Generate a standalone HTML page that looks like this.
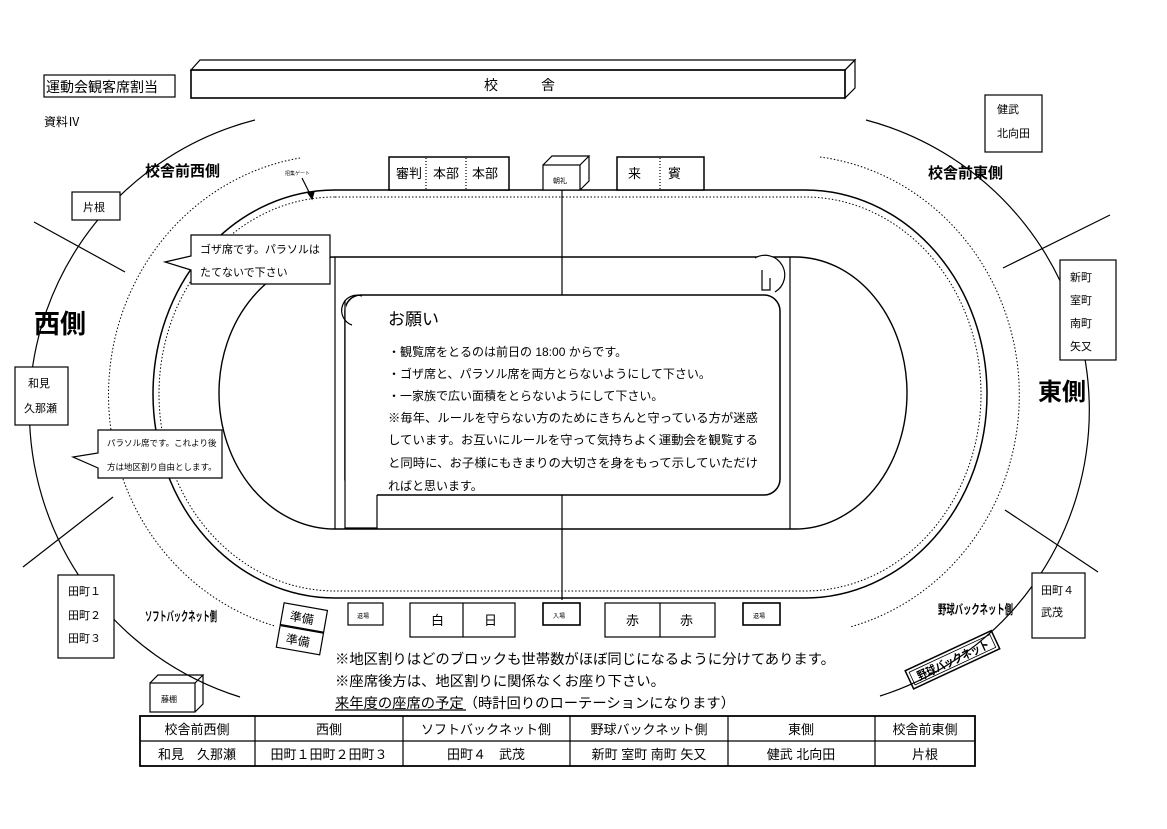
<!DOCTYPE html>
<html><head><meta charset="utf-8"><style>
html,body{margin:0;padding:0;background:#fff}
svg{display:block}
text{font-family:"Liberation Sans","Noto Sans CJK JP",sans-serif;fill:#000}
.b{font-weight:bold}
</style></head><body>
<svg width="1167" height="829" viewBox="0 0 1167 829" xmlns="http://www.w3.org/2000/svg">
<g fill="none" stroke="#000" stroke-width="1.2">
<rect x="44" y="75" width="131" height="22"/>
<path d="M191 70 L200 60 L855 60 L845 70 Z"/>
<path d="M845 70 L855 60 L855 88 L845 98 Z"/>
<rect x="191" y="70" width="654" height="28" stroke-width="1.6"/>
<path d="M255 120 A300 300 0 0 0 240 697"/>
<path d="M866 120 A300 300 0 0 1 880 696"/>
<path d="M300 158 A228 240 0 0 0 275 626" stroke-dasharray="1.5 2" stroke-width="1"/>
<path d="M820 157 A228 240 0 0 1 850 627" stroke-dasharray="1.5 2" stroke-width="1"/>
<path d="M335 190 L805 190 A182 204 0 0 1 805 598 L335 598 A182 204 0 0 1 335 190 Z" stroke-width="1.5"/>
<path d="M335 197 L805 197 A176 197 0 0 1 805 591 L335 591 A176 197 0 0 1 335 197 Z" stroke-dasharray="1.5 2" stroke-width="1"/>
<path d="M335 257 L795 257 A112 136 0 0 1 795 529 L335 529 A116 136 0 0 1 335 257 Z" stroke-width="1.4"/>
<line x1="335" y1="257" x2="335" y2="529"/>
<line x1="790" y1="257" x2="790" y2="529"/>
<line x1="562" y1="190" x2="562" y2="600"/>
<line x1="34" y1="222" x2="125" y2="272"/>
<line x1="23" y1="567" x2="113" y2="497"/>
<line x1="1110" y1="215" x2="1003" y2="268"/>
<line x1="1005" y1="510" x2="1098" y2="572"/>
<rect x="72" y="192" width="48" height="28" fill="#fff"/>
<rect x="15" y="367" width="53" height="58" fill="#fff"/>
<rect x="58" y="575" width="56" height="83" fill="#fff"/>
<rect x="985" y="95" width="57" height="57" fill="#fff"/>
<rect x="1060" y="260" width="56" height="100" fill="#fff"/>
<rect x="1032" y="573" width="53" height="65" fill="#fff"/>
<path d="M191 235 L330 235 L330 284 L191 284 L191 270 L165 262 L191 256 Z" fill="#fff"/>
<path d="M98 430 L222 430 L222 478 L98 478 L98 468 L73 457 L98 453 Z" fill="#fff"/>
<rect x="389" y="157" width="120" height="33" fill="#fff" stroke-width="1.5"/>
<line x1="426" y1="158" x2="426" y2="189" stroke-dasharray="1 2"/>
<line x1="466" y1="158" x2="466" y2="189" stroke-dasharray="1 2"/>
<rect x="543" y="165" width="37" height="25" fill="#fff"/>
<path d="M543 165 L552 156 L589 156 L580 165 M580 190 L589 181 L589 156"/>
<rect x="617" y="157" width="87" height="33" fill="#fff" stroke-width="1.5"/>
<line x1="660" y1="158" x2="660" y2="189" stroke-dasharray="1 2"/>
<line x1="302" y1="178" x2="311" y2="196"/>
<path d="M308 193 L312 199 L314 192 Z" fill="#000"/>
<path d="M755 258 A17 17 0 1 1 775 292" fill="#fff"/>
<rect x="345" y="295" width="435" height="200" rx="16" fill="#fff" stroke-width="1.5"/>
<path d="M345 300 L345 528 L377 528 L377 495" fill="#fff"/>
<path d="M362 296 A12 12 0 0 0 352 325" />
<path d="M762 270 L762 290 L770 290 L770 278"/>
<rect x="348" y="603" width="35" height="22" fill="#fff"/>
<rect x="410" y="603" width="105" height="34" fill="#fff"/>
<line x1="463" y1="603" x2="463" y2="637"/>
<rect x="543" y="603" width="37" height="22" fill="#fff" stroke-width="1.6"/>
<rect x="605" y="603" width="110" height="34" fill="#fff"/>
<line x1="660" y1="603" x2="660" y2="637"/>
<rect x="743" y="603" width="37" height="22" fill="#fff" stroke-width="1.6"/>
<g transform="rotate(10 300 628)">
<rect x="280" y="606" width="44" height="22" fill="#fff"/>
<rect x="280" y="629" width="44" height="22" fill="#fff"/>
</g>
<rect x="150" y="683" width="45" height="29" fill="#fff"/>
<path d="M150 683 L158 675 L203 675 L195 683 M195 712 L203 704 L203 675"/>
<g transform="rotate(-25 952 660)">
<rect x="905" y="650" width="95" height="20" stroke-width="1.5"/>
<rect x="908" y="653" width="89" height="14" stroke-width="0.8"/>
</g>
<rect x="140" y="716" width="835" height="50" stroke-width="1.8"/>
<line x1="140" y1="741" x2="975" y2="741"/>
<line x1="255" y1="716" x2="255" y2="766"/>
<line x1="403" y1="716" x2="403" y2="766"/>
<line x1="570" y1="716" x2="570" y2="766"/>
<line x1="728" y1="716" x2="728" y2="766"/>
<line x1="875" y1="716" x2="875" y2="766"/>
<line x1="335" y1="710" x2="466" y2="710"/>
</g>
<text x="46" y="92" font-size="14">運動会観客席割当</text>
<text x="484" y="90" font-size="14">校</text>
<text x="541" y="90" font-size="14">舎</text>
<text x="44" y="126" font-size="12">資料Ⅳ</text>
<text x="145" y="176" font-size="15" class="b">校舎前西側</text>
<text x="928" y="178" font-size="15" class="b">校舎前東側</text>
<text x="83" y="211" font-size="11">片根</text>
<text x="997" y="113" font-size="11">健武</text>
<text x="997" y="137" font-size="11">北向田</text>
<text x="1070" y="281" font-size="11">新町</text>
<text x="1070" y="304" font-size="11">室町</text>
<text x="1070" y="327" font-size="11">南町</text>
<text x="1070" y="350" font-size="11">矢又</text>
<text x="28" y="387" font-size="11">和見</text>
<text x="24" y="412" font-size="11">久那瀬</text>
<text x="68" y="595" font-size="11">田町１</text>
<text x="68" y="619" font-size="11">田町２</text>
<text x="68" y="642" font-size="11">田町３</text>
<text x="1041" y="594" font-size="11">田町４</text>
<text x="1041" y="616" font-size="11">武茂</text>
<text x="34" y="333" font-size="26" class="b">西側</text>
<text x="1038" y="400" font-size="24" class="b">東側</text>
<text x="200" y="253" font-size="11">ゴザ席です。パラソルは</text>
<text x="200" y="276" font-size="11">たてないで下さい</text>
<text x="107" y="446" font-size="8.5">パラソル席です。これより後</text>
<text x="107" y="470" font-size="8.5">方は地区割り自由とします。</text>
<text x="396" y="178" font-size="13">審判</text>
<text x="433" y="178" font-size="13">本部</text>
<text x="472" y="178" font-size="13">本部</text>
<text x="553" y="183" font-size="7">朝礼</text>
<text x="628" y="178" font-size="13">来</text>
<text x="668" y="178" font-size="13">賓</text>
<text x="285" y="175" font-size="5">招集ゲート</text>
<text x="388" y="325" font-size="17">お願い</text>
<g font-size="12">
<text x="388" y="356">・観覧席をとるのは前日の 18:00 からです。</text>
<text x="388" y="378">・ゴザ席と、パラソル席を両方とらないようにして下さい。</text>
<text x="388" y="400">・一家族で広い面積をとらないようにして下さい。</text>
<text x="388" y="422" textLength="370" lengthAdjust="spacingAndGlyphs">※毎年、ルールを守らない方のためにきちんと守っている方が迷惑</text>
<text x="388" y="444" textLength="370" lengthAdjust="spacingAndGlyphs">しています。お互いにルールを守って気持ちよく運動会を観覧する</text>
<text x="388" y="467" textLength="370" lengthAdjust="spacingAndGlyphs">と同時に、お子様にもきまりの大切さを身をもって示していただけ</text>
<text x="388" y="490">ればと思います。</text>
</g>
<text x="357" y="618" font-size="6">退場</text>
<text x="431" y="625" font-size="13">白</text>
<text x="484" y="625" font-size="13">日</text>
<text x="553" y="618" font-size="6">入場</text>
<text x="626" y="625" font-size="13">赤</text>
<text x="680" y="625" font-size="13">赤</text>
<text x="753" y="618" font-size="6">退場</text>
<g transform="rotate(10 300 628)">
<text x="288" y="622" font-size="12">準備</text>
<text x="288" y="645" font-size="12">準備</text>
</g>
<text x="145" y="621" font-size="13" class="b" textLength="72" lengthAdjust="spacingAndGlyphs">ソフトバックネット側</text>
<text x="938" y="614" font-size="13" class="b" textLength="75" lengthAdjust="spacingAndGlyphs">野球バックネット側</text>
<text x="161" y="702" font-size="8">藤棚</text>
<g transform="rotate(-25 952 660)">
<text x="914" y="665" font-size="12" class="b" textLength="78" lengthAdjust="spacingAndGlyphs">野球バックネット</text>
</g>
<text x="335" y="664" font-size="14" textLength="500" lengthAdjust="spacingAndGlyphs">※地区割りはどのブロックも世帯数がほぼ同じになるように分けてあります。</text>
<text x="335" y="686" font-size="14" textLength="330" lengthAdjust="spacingAndGlyphs">※座席後方は、地区割りに関係なくお座り下さい。</text>
<text x="335" y="708" font-size="14" textLength="400" lengthAdjust="spacingAndGlyphs">来年度の座席の予定（時計回りのローテーションになります）</text>
<g font-size="13" text-anchor="middle">
<text x="197" y="734">校舎前西側</text>
<text x="329" y="734">西側</text>
<text x="486" y="734">ソフトバックネット側</text>
<text x="649" y="734">野球バックネット側</text>
<text x="801" y="734">東側</text>
<text x="925" y="734">校舎前東側</text>
<text x="197" y="759">和見　久那瀬</text>
<text x="329" y="759">田町１田町２田町３</text>
<text x="486" y="759">田町４　武茂</text>
<text x="649" y="759">新町 室町 南町 矢又</text>
<text x="801" y="759">健武 北向田</text>
<text x="925" y="759">片根</text>
</g>
</svg>
</body></html>
